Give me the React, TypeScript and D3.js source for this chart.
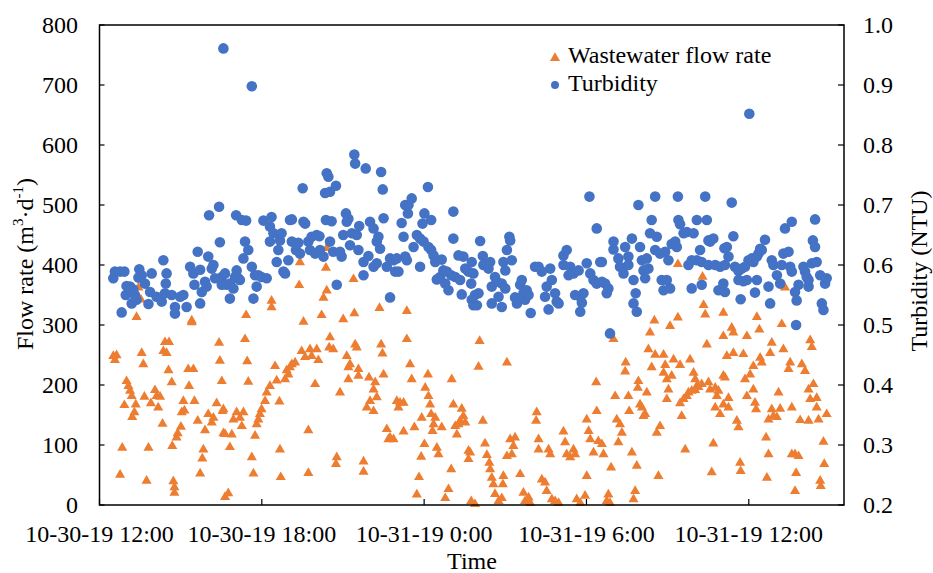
import React from "react";
import * as d3 from "d3";

// Hours after 10-30-19 12:00 and values
const flowPoints: [number, number][] = [
  [0.51,250],[0.57,243],[0.63,251],[0.76,52],[0.84,97],[0.92,168],[1.00,208],[1.07,200],[1.13,192],[1.19,183],[1.21,148],[1.29,156],[1.34,169],[1.37,315],[1.44,364],[1.53,344],[1.56,255],[1.62,236],[1.66,182],[1.74,42],[1.81,97],[1.90,171],[2.05,193],[2.11,183],[2.17,164],[2.24,182],[2.33,137],[2.36,258],[2.42,273],[2.48,255],[2.55,226],[2.57,273],[2.67,206],[2.69,100],[2.73,41],[2.77,31],[2.77,22],[2.85,114],[2.89,121],[3.01,132],[3.04,156],[3.10,175],[3.14,159],[3.28,228],[3.31,200],[3.41,309],[3.41,306],[3.47,228],[3.51,175],[3.63,142],[3.72,54],[3.80,79],[3.84,94],[3.90,126],[4.02,153],[4.15,139],[4.21,147],[4.33,171],[4.42,272],[4.45,242],[4.52,208],[4.55,158],[4.58,121],[4.64,15],
  [4.58,161],[4.64,120],[4.76,21],[4.82,98],[4.89,119],[4.95,144],[5.07,156],[5.19,147],[5.26,133],[5.32,156],[5.38,278],[5.42,318],[5.46,241],[5.50,207],[5.63,81],[5.69,54],[5.75,117],[5.81,136],[5.87,144],[5.93,153],[5.99,161],[6.12,175],[6.18,189],[6.30,200],[6.36,342],[6.36,331],[6.49,233],[6.55,209],[6.65,174],[6.67,94],[6.70,48],[6.86,211],[6.92,226],[6.98,219],[7.04,231],[7.11,236],[7.23,239],[7.38,368],[7.41,406],[7.47,258],[7.54,307],[7.60,248],[7.72,126],[7.72,55],[7.78,261],[7.84,250],[7.97,203],[8.03,261],[8.09,243],[8.21,318],[8.28,347],[8.37,397],[8.40,359],[8.40,430],[8.49,264],[8.52,281],[8.64,261],[8.74,70],[8.77,81],[8.89,189],[9.01,311],[9.14,250],[9.20,231],[9.20,211],
  [9.26,236],[9.39,378],[9.42,321],[9.45,269],[9.51,264],[9.57,228],[9.57,217],[9.76,74],[9.76,57],[9.88,164],[9.96,214],[10.00,175],[10.13,194],[10.13,158],[10.19,206],[10.25,181],[10.35,330],[10.41,269],[10.46,254],[10.50,219],[10.62,128],[10.68,111],[10.74,114],[10.87,111],[10.99,175],[11.05,164],[11.11,172],[11.24,172],[11.24,124],[11.36,325],[11.36,278],[11.48,236],[11.54,211],[11.64,131],[11.73,19],[11.81,48],[11.89,82],[11.91,147],[12.01,103],[12.04,197],[12.14,219],[12.16,183],[12.22,169],[12.26,153],[12.31,125],[12.35,136],[12.41,147],[12.47,97],[12.53,86],[12.65,131],[12.78,13],[12.90,28],[13.00,61],[13.02,211],[13.08,169],[13.15,133],[13.21,119],[13.27,136],[13.33,142],[13.39,162],[13.45,150],[13.52,139],[13.64,92],[13.64,78],[13.74,8],
  [13.70,89],[13.88,3],[14.01,232],[14.05,275],[14.17,142],[14.25,104],[14.32,85],[14.41,72],[14.44,61],[14.50,47],[14.56,36],[14.62,20],[14.75,8],[14.87,13],[14.91,36],[14.93,50],[15.06,239],[15.06,83],[15.18,111],[15.24,86],[15.30,100],[15.36,114],[15.55,53],[15.67,22],[15.73,8],[15.86,14],[15.92,5],[16.14,142],[16.16,156],[16.23,111],[16.23,94],[16.35,44],[16.47,39],[16.53,25],[16.60,94],[16.66,86],[16.72,11],[16.84,8],[16.97,5],[17.15,124],[17.21,106],[17.27,86],[17.40,81],[17.52,94],[17.58,86],[17.64,11],[17.77,5],[17.95,17],[18.01,50],[18.01,144],[18.08,125],[18.14,111],[18.26,89],[18.36,206],[18.38,158],[18.44,108],
  [18.57,103],[18.63,86],[18.75,8],[18.81,19],[18.87,5],[18.91,64],[19.00,278],[19.06,183],[19.12,144],[19.18,106],[19.24,136],[19.31,122],[19.43,224],[19.45,239],[19.55,183],[19.58,158],[19.68,89],[19.74,11],[19.80,25],[19.86,67],[19.90,197],[19.92,208],[19.98,169],[20.05,164],[20.11,150],[20.17,153],[20.23,189],[20.29,261],[20.35,289],[20.41,231],[20.51,309],[20.54,252],[20.60,122],[20.66,50],[20.72,133],[20.85,252],[20.85,222],[20.91,235],[20.97,211],[20.97,178],[21.03,194],[21.09,300],[21.15,217],[21.22,244],[21.38,403],[21.38,314],[21.46,235],[21.46,171],[21.52,150],[21.59,178],[21.65,94],[21.71,183],[21.77,189],[21.83,244],[21.89,192],[21.96,222],[22.02,211],[22.02,193],[22.08,200],[22.14,198],[22.26,203],[22.29,382],[22.33,335],[22.39,319],[22.45,269],[22.51,206],[22.57,194],[22.63,56],[22.69,104],[22.76,197],[22.76,164],[22.82,183],[22.88,192],[22.94,153],[23.06,322],[23.06,283],[23.06,169],[23.06,217],
  [23.12,214],[23.19,250],[23.25,180],[23.25,164],[23.37,297],[23.43,289],[23.43,255],[23.56,142],[23.62,131],[23.68,72],[23.70,58],[23.80,253],[23.86,211],[23.93,283],[23.93,183],[24.05,219],[24.17,233],[24.17,194],[24.23,172],[24.27,161],[24.30,315],[24.39,294],[24.42,247],[24.48,239],[24.64,114],[24.67,47],[24.73,144],[24.73,86],[24.79,255],[24.85,272],[24.85,161],[24.91,150],[25.04,148],[25.10,189],[25.16,162],[25.22,303],[25.28,261],[25.34,364],[25.47,228],[25.53,239],[25.59,164],[25.59,86],[25.71,86],[25.71,25],[25.75,55],[25.84,83],[25.90,143],[25.96,236],[26.08,225],[26.21,194],[26.21,142],[26.27,276],[26.27,178],[26.33,265],[26.39,203],[26.51,180],[26.51,164],[26.58,144],[26.64,42],[26.66,33],[26.76,107],[26.79,70],[26.88,153]
];

const turbidityPoints: [number, number][] = [
  [0.51,0.578],[0.57,0.589],[0.76,0.589],[0.82,0.521],[0.92,0.589],[0.97,0.550],[1.00,0.565],[1.13,0.564],[1.19,0.536],[1.25,0.559],[1.31,0.550],[1.37,0.542],[1.44,0.579],[1.47,0.593],[1.56,0.583],[1.68,0.569],[1.81,0.535],[1.87,0.555],[1.93,0.586],[2.11,0.547],[2.30,0.539],[2.36,0.608],[2.42,0.553],[2.45,0.569],[2.48,0.586],[2.67,0.550],[2.79,0.530],[2.79,0.519],[2.98,0.547],[3.10,0.550],[3.22,0.530],[3.35,0.597],[3.47,0.586],[3.51,0.567],[3.63,0.622],[3.72,0.592],[3.72,0.536],[3.78,0.555],[3.90,0.572],[3.96,0.564],[4.02,0.614],[4.05,0.683],[4.15,0.594],[4.21,0.600],[4.27,0.578],[4.42,0.697],[4.45,0.638],[4.52,0.580],[4.52,0.567],[4.58,0.961],
  [4.64,0.586],[4.70,0.567],[4.82,0.569],[4.82,0.544],[4.95,0.561],[5.01,0.580],[5.05,0.683],[5.07,0.591],[5.13,0.578],[5.19,0.575],[5.26,0.675],[5.32,0.611],[5.38,0.639],[5.42,0.674],[5.50,0.625],[5.63,0.898],[5.63,0.597],[5.69,0.544],[5.75,0.583],[5.81,0.564],[5.87,0.583],[5.99,0.580],[6.06,0.674],[6.18,0.578],[6.30,0.664],[6.30,0.639],[6.36,0.680],[6.43,0.653],[6.55,0.605],[6.61,0.625],[6.67,0.641],[6.73,0.653],[6.80,0.589],[6.86,0.586],[6.98,0.608],[7.04,0.675],[7.11,0.676],[7.11,0.639],[7.26,0.625],[7.35,0.637],[7.41,0.619],[7.51,0.728],[7.54,0.672],[7.60,0.669],[7.72,0.639],[7.78,0.625],[7.84,0.647],[7.97,0.619],[8.03,0.650],[8.13,0.648],[8.15,0.625],[8.28,0.614],[8.34,0.720],[8.37,0.675],[8.40,0.753],[8.46,0.747],[8.52,0.722],[8.52,0.639],[8.58,0.673],[8.64,0.622],[8.74,0.732],[8.77,0.567],[8.89,0.622],[8.95,0.614],[9.01,0.650],[9.11,0.686],[9.14,0.672],
  [9.20,0.677],[9.26,0.633],[9.33,0.653],[9.42,0.784],[9.45,0.769],[9.51,0.650],[9.57,0.625],[9.60,0.665],[9.76,0.605],[9.76,0.583],[9.84,0.761],[9.94,0.615],[10.00,0.672],[10.13,0.661],[10.13,0.597],[10.25,0.639],[10.25,0.603],[10.31,0.647],[10.37,0.627],[10.41,0.755],[10.47,0.726],[10.50,0.678],[10.62,0.597],[10.74,0.611],[10.74,0.546],[10.87,0.608],[10.93,0.589],[10.99,0.611],[11.05,0.589],[11.17,0.670],[11.24,0.647],[11.30,0.700],[11.30,0.614],[11.36,0.608],[11.40,0.686],[11.42,0.700],[11.54,0.711],[11.61,0.630],[11.73,0.650],[11.85,0.597],[11.85,0.644],[11.94,0.669],[11.98,0.639],[12.01,0.686],[12.14,0.730],[12.16,0.630],[12.26,0.675],[12.26,0.625],[12.35,0.616],[12.41,0.605],[12.47,0.576],[12.59,0.580],[12.65,0.609],[12.71,0.591],[12.78,0.569],[12.84,0.589],[12.90,0.558],[13.00,0.583],[13.08,0.689],[13.08,0.644],[13.15,0.580],[13.27,0.616],[13.33,0.575],[13.39,0.551],[13.45,0.614],[13.52,0.594],[13.64,0.589],[13.74,0.569],[13.76,0.542],[13.82,0.533],
  [13.76,0.605],[13.82,0.586],[13.88,0.550],[13.95,0.533],[14.01,0.553],[14.07,0.640],[14.17,0.615],[14.19,0.600],[14.38,0.594],[14.44,0.605],[14.50,0.564],[14.50,0.536],[14.62,0.580],[14.69,0.572],[14.75,0.547],[14.87,0.569],[14.87,0.530],[14.93,0.605],[15.00,0.561],[15.00,0.591],[15.06,0.625],[15.15,0.647],[15.18,0.641],[15.24,0.608],[15.36,0.546],[15.43,0.536],[15.55,0.567],[15.61,0.575],[15.67,0.553],[15.73,0.542],[15.79,0.558],[15.86,0.550],[15.94,0.520],[16.10,0.597],[16.23,0.597],[16.35,0.589],[16.47,0.547],[16.53,0.564],[16.60,0.526],[16.66,0.594],[16.72,0.575],[16.84,0.553],[16.90,0.539],[16.97,0.536],[17.15,0.616],[17.15,0.600],[17.27,0.625],[17.34,0.583],[17.40,0.597],[17.52,0.586],[17.58,0.550],[17.71,0.591],[17.77,0.547],[17.77,0.522],[17.83,0.537],[17.89,0.553],[18.01,0.603],[18.11,0.714],[18.14,0.586],[18.26,0.575],[18.38,0.569],[18.38,0.661],[18.51,0.605],
  [18.57,0.572],[18.57,0.605],[18.69,0.569],[18.75,0.553],[18.81,0.561],[18.87,0.486],[19.00,0.639],[19.00,0.626],[19.18,0.611],[19.24,0.597],[19.37,0.586],[19.43,0.630],[19.55,0.614],[19.55,0.600],[19.68,0.644],[19.74,0.575],[19.74,0.536],[19.82,0.553],[19.86,0.522],[19.92,0.700],[19.98,0.630],[20.05,0.608],[20.11,0.591],[20.17,0.578],[20.23,0.611],[20.29,0.594],[20.35,0.653],[20.41,0.675],[20.54,0.714],[20.54,0.625],[20.60,0.647],[20.72,0.619],[20.78,0.575],[20.85,0.558],[20.91,0.622],[20.97,0.575],[21.03,0.608],[21.09,0.561],[21.15,0.635],[21.28,0.639],[21.34,0.630],[21.38,0.714],[21.40,0.675],[21.46,0.668],[21.59,0.653],[21.71,0.655],[21.77,0.600],[21.89,0.608],[21.89,0.561],[21.96,0.653],[22.08,0.675],[22.08,0.608],[22.20,0.625],[22.26,0.605],[22.26,0.567],[22.39,0.714],[22.45,0.675],[22.51,0.641],[22.51,0.600],[22.57,0.639],[22.69,0.644],[22.76,0.600],[22.88,0.558],[22.94,0.597],[23.06,0.569],[23.10,0.628],
  [23.12,0.600],[23.12,0.555],[23.19,0.630],[23.25,0.614],[23.37,0.704],[23.43,0.648],[23.49,0.597],[23.62,0.590],[23.62,0.575],[23.70,0.543],[23.74,0.594],[23.80,0.573],[23.86,0.597],[23.93,0.575],[23.99,0.608],[24.02,0.852],[24.11,0.611],[24.17,0.605],[24.23,0.554],[24.30,0.614],[24.30,0.575],[24.36,0.619],[24.42,0.627],[24.48,0.625],[24.60,0.642],[24.73,0.564],[24.79,0.536],[24.85,0.608],[24.91,0.600],[25.04,0.583],[25.16,0.569],[25.22,0.600],[25.28,0.619],[25.34,0.661],[25.47,0.622],[25.53,0.597],[25.59,0.672],[25.59,0.589],[25.71,0.555],[25.75,0.500],[25.77,0.541],[25.84,0.567],[26.02,0.597],[26.08,0.589],[26.14,0.580],[26.21,0.564],[26.21,0.575],[26.33,0.603],[26.37,0.641],[26.45,0.630],[26.45,0.676],[26.51,0.605],[26.64,0.583],[26.70,0.536],[26.76,0.525],[26.82,0.569],[26.88,0.578]
];

const xTickHours = [0, 6, 12, 18, 24];
const flowTicks = [0, 100, 200, 300, 400, 500, 600, 700, 800];
const turbTicks = [0.2, 0.3, 0.4, 0.5, 0.6, 0.7, 0.8, 0.9, 1.0];
const seriesNames = ["Wastewater flow rate", "Turbidity"];
const seriesColors = ["#ED7D31", "#4472C4"];

const START = new Date(2019, 9, 30, 12, 0);
const END_HOURS = 27.52;
const at = (h: number) => new Date(START.getTime() + h * 3600000);

const W = 933, H = 573;
const L = 99.5, R = 844, T = 25, B = 505;
const FONT = "'Liberation Serif', 'Times New Roman', serif";
const FS = 24;

export default function App() {
  const x = d3.scaleTime().domain([START, at(END_HOURS)]).range([L, R]);
  const yL = d3.scaleLinear().domain([0, 800]).range([B, T]);
  const yR = d3.scaleLinear().domain([0.2, 1.0]).range([B, T]);
  const fmt = d3.timeFormat("%m-%d-%y %-H:%M");
  const tri = d3.symbol(d3.symbolTriangle, 44)() as string;
  const circ = d3.symbol(d3.symbolCircle, 88)() as string;

  return (
    <svg width={W} height={H} style={{ position: "absolute", left: 0, top: 0, background: "#fff" }} fontFamily={FONT}>
      <rect x={0} y={0} width={W} height={H} fill="#fff" />
      {/* markers */}
      <g>
        {flowPoints.map((d, i) => (
          <path key={"f" + i} d={tri} transform={`translate(${x(at(d[0]))},${yL(d[1]) + 1})`} fill={seriesColors[0]} />
        ))}
      </g>
      <g>
        {turbidityPoints.map((d, i) => (
          <path key={"t" + i} d={circ} transform={`translate(${x(at(d[0]))},${yR(d[1])})`} fill={seriesColors[1]} />
        ))}
      </g>
      {/* frame */}
      <rect x={L} y={T} width={R - L} height={B - T} fill="none" stroke="#000" strokeWidth={1.5} />
      {/* left ticks */}
      {flowTicks.map((v) => (
        <g key={"lt" + v}>
          <line x1={L} x2={L + 5} y1={yL(v)} y2={yL(v)} stroke="#000" strokeWidth={1.2} />
          <text x={78} y={yL(v)} dy="0.34em" textAnchor="end" fontSize={FS}>{v}</text>
        </g>
      ))}
      {/* right ticks */}
      {turbTicks.map((v) => (
        <g key={"rt" + v}>
          <line x1={R - 6} x2={R} y1={yR(v)} y2={yR(v)} stroke="#000" strokeWidth={1.2} />
          <text x={863} y={yR(v)} dy="0.34em" textAnchor="start" fontSize={FS}>{v.toFixed(1)}</text>
        </g>
      ))}
      {/* x ticks */}
      {xTickHours.map((h) => (
        <g key={"xt" + h}>
          <line x1={x(at(h))} x2={x(at(h))} y1={B} y2={B - 6} stroke="#000" strokeWidth={1.2} />
          <text x={x(at(h))} y={542} textAnchor="middle" fontSize={FS}>{fmt(at(h))}</text>
        </g>
      ))}
      {/* axis titles */}
      <text x={472} y={569} textAnchor="middle" fontSize={FS}>Time</text>
      <text transform="translate(33,264) rotate(-90)" textAnchor="middle" fontSize={FS}>
        Flow rate (m<tspan fontSize={15} dy={-10}>3</tspan><tspan dy={10}>·d</tspan><tspan fontSize={15} dy={-10}>-1</tspan><tspan dy={10}>)</tspan>
      </text>
      <text transform="translate(927,271) rotate(-90)" textAnchor="middle" fontSize={FS}>Turbidity (NTU)</text>
      {/* legend */}
      <path d={tri} transform="translate(555,58)" fill={seriesColors[0]} />
      <text x={568} y={63} fontSize={FS}>{seriesNames[0]}</text>
      <path d={d3.symbol(d3.symbolCircle, 50)() as string} transform="translate(555,85)" fill={seriesColors[1]} />
      <text x={568} y={91} fontSize={FS}>{seriesNames[1]}</text>
    </svg>
  );
}
